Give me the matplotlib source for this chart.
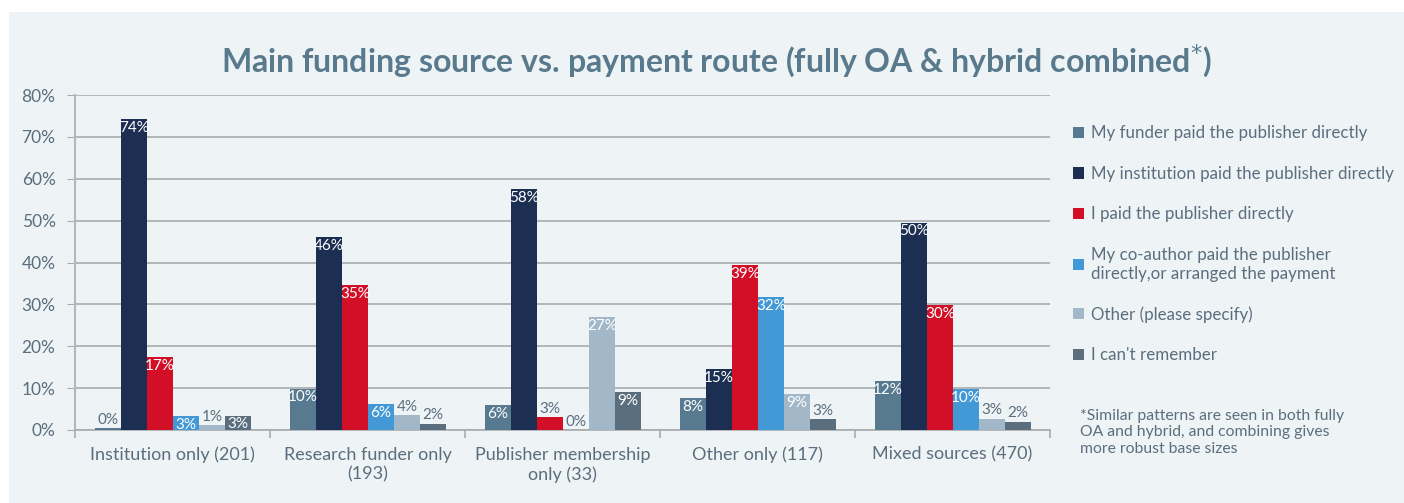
import matplotlib
matplotlib.use("Agg")
import matplotlib.pyplot as plt
import numpy as np
from matplotlib.patches import Rectangle

plt.rcParams['font.family'] = ['Lato', 'DejaVu Sans']

gruppi = ["Institution only (201)", "Research funder only\n(193)",
          "Publisher membership\nonly (33)", "Other only (117)", "Mixed sources (470)"]
serie = ["My funder paid the publisher directly",
         "My institution paid the publisher directly",
         "I paid the publisher directly",
         "My co-author paid the publisher\ndirectly,or arranged the payment",
         "Other (please specify)",
         "I can't remember"]
funder = [0.4, 9.9, 6.0, 7.6, 11.7]
institution = [74.3, 46.0, 57.5, 14.6, 49.5]
paid_self = [17.4, 34.6, 3.0, 39.3, 29.8]
coauthor = [3.3, 6.1, 0.0, 31.7, 9.8]
other = [1.1, 3.6, 27.0, 8.6, 2.7]
cant_remember = [3.4, 1.5, 9.1, 2.6, 2.0]
valori = [funder, institution, paid_self, coauthor, other, cant_remember]
colori = ["#587A90", "#1C2E52", "#D20F26", "#4399D5", "#A2B8C8", "#5A6E7E"]

testo = "#5A6E7E"
sfondo = "#EEF3F6"
griglia = "#A9ACAF"

fig = plt.figure(figsize=(14.04, 5.03), dpi=100, facecolor="white")
fig.patches.append(Rectangle((9/1404, 0), 1, 1 - 12/503, transform=fig.transFigure,
                             facecolor=sfondo, edgecolor="none", zorder=-10))
ax = fig.add_axes([75/1404, 1 - 430/503, (1050 - 75)/1404, (430 - 95)/503])
ax.set_facecolor(sfondo)

x = np.arange(len(gruppi))
n = len(serie)
w = 0.134
for i, (vals, col, lab) in enumerate(zip(valori, colori, serie)):
    pos = x - 0.4 + w/2 + i*w
    ax.bar(pos, vals, w, color=col, label=lab, zorder=3)
    for px, v in zip(pos, vals):
        s = f"{v:.0f}%"
        light = (i == 4 and v < 5)
        if v >= 3.2 and not light:
            ax.text(px, v - 0.4, s, ha="center", va="top", color="white",
                    fontsize=11, zorder=4)
        else:
            ax.text(px, v + 0.3, s, ha="center", va="bottom", color=testo,
                    fontsize=11, zorder=4)

ax.set_xlim(-0.5, len(gruppi) - 0.5)
ax.set_ylim(0, 80)
ax.set_yticks(np.arange(0, 81, 10))
ax.set_yticklabels([f"{t}%" for t in range(0, 81, 10)])
ax.set_xticks(x)
ax.set_xticklabels(gruppi, linespacing=1.3)
ax.set_xticks(np.arange(-0.5, len(gruppi), 1), minor=True)
ax.tick_params(axis="x", which="major", length=0, pad=12, labelsize=13, labelcolor=testo)
ax.tick_params(axis="x", which="minor", length=6, color=griglia, width=1.2)
ax.tick_params(axis="y", length=6, color=griglia, labelsize=12.5, labelcolor=testo, pad=8)
ax.grid(axis="y", color=griglia, linewidth=1.2, zorder=0)
for sp in ["top", "right"]:
    ax.spines[sp].set_visible(False)
ax.spines["left"].set_color("#B5B8BB")
ax.spines["left"].set_linewidth(1.5)
ax.spines["bottom"].set_color(griglia)
ax.spines["bottom"].set_linewidth(1.2)

fig.text(0.5 + 14/1404, 1 - 61/503, "Main funding source vs. payment route (fully OA & hybrid combined$^{*}$)",
         ha="center", va="center", fontsize=23, fontweight="bold", color="#587A8C")

leg = ax.legend(loc="upper left", bbox_to_anchor=(1058/1404, 1 - 110/503),
                bbox_transform=fig.transFigure, frameon=False, fontsize=12.2,
                labelcolor=testo, handlelength=0.65, handleheight=0.65,
                handletextpad=0.4, labelspacing=1.45)

fig.text(1080/1404, 1 - 409/503,
         "*Similar patterns are seen in both fully\nOA and hybrid, and combining gives\nmore robust base sizes",
         ha="left", va="top", fontsize=11.3, color=testo, linespacing=1.22)

fig.savefig("out.png", dpi=100, facecolor=fig.get_facecolor())
